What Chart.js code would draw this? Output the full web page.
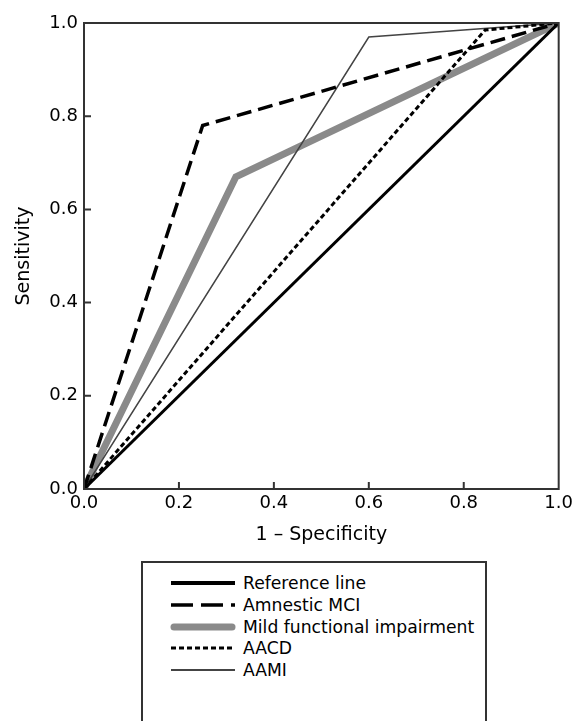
<!DOCTYPE html>
<html>
   <head>
      <title>ROC curves</title>
      <meta charset="utf-8">
      <style>
         body { margin: 0; background: #fff; font-family: "DejaVu Sans", sans-serif; }
         .wrap { position: relative; width: 577px; height: 721px; overflow: hidden; }
         .chart-box { position: absolute; left: 0; top: 0; width: 577px; height: 546px; }
         .legend { position: absolute; left: 141px; top: 561px; width: 342px; height: 200px; border: 2px solid #333; }
         .legend .row { position: absolute; left: 27px; height: 20px; font-size: 17.2px; line-height: 20px; color: #000; white-space: nowrap; }
         .legend svg { position: absolute; left: 0; top: 4px; }
         .legend span { position: absolute; left: 73px; top: 0; }
      </style>
   </head>
   <body>
      <div class="wrap">
         <div class="chart-box"><canvas id="roc"></canvas></div>
         <div class="legend" id="legend"></div>
      </div>

      <script src="https://cdn.jsdelivr.net/npm/chart.js@4.4.1/dist/chart.umd.min.js"></script>
      <script>
      // series (1 - specificity, sensitivity)
      const seriesNames = ['Reference line', 'Amnestic MCI', 'Mild functional impairment', 'AACD', 'AAMI'];
      const refX = [0, 1];
      const refY = [0, 1];
      const mciX = [0, 0.25, 1];
      const mciY = [0, 0.78, 1];
      const mfiX = [0, 0.32, 1];
      const mfiY = [0, 0.67, 1];
      const aacdX = [0, 0.845, 1];
      const aacdY = [0, 0.985, 1];
      const aamiX = [0, 0.60, 1];
      const aamiY = [0, 0.97, 1];
      const tickValues = [0, 0.2, 0.4, 0.6, 0.8, 1.0];

      function pts(xs, ys) {
         return xs.map((x, i) => ({x: x, y: ys[i]}));
      }

      // line styles: [colour, width, dash]
      const styles = [
         ['#000', 3, []],
         ['#000', 3.5, [15, 7]],
         ['#8a8a8a', 7, []],
         ['#000', 3, [5, 3]],
         ['#444', 1.5, []]
      ];
      const allX = [refX, mciX, mfiX, aacdX, aamiX];
      const allY = [refY, mciY, mfiY, aacdY, aamiY];
      const drawOrder = [2, 3, 5, 1, 4];

      const datasets = seriesNames.map((name, i) => ({
         label: name,
         data: pts(allX[i], allY[i]),
         borderColor: styles[i][0],
         borderWidth: styles[i][1],
         borderDash: styles[i][2],
         borderJoinStyle: 'miter',
         borderCapStyle: 'butt',
         pointRadius: 0,
         fill: false,
         tension: 0,
         order: drawOrder[i]
      }));

      // frame and inward tick marks
      const framePlugin = {
         id: 'frame',
         afterDraw(chart) {
            const ctx = chart.ctx;
            const a = chart.chartArea;
            const xs = chart.scales.x, ys = chart.scales.y;
            ctx.save();
            ctx.strokeStyle = '#333';
            ctx.lineWidth = 2;
            ctx.strokeRect(a.left, a.top, a.right - a.left, a.bottom - a.top);
            ctx.beginPath();
            tickValues.slice(1, -1).forEach(v => {
               const px = xs.getPixelForValue(v);
               ctx.moveTo(px, a.bottom);
               ctx.lineTo(px, a.bottom - 7);
               const py = ys.getPixelForValue(v);
               ctx.moveTo(a.left, py);
               ctx.lineTo(a.left + 7, py);
            });
            ctx.stroke();
            ctx.restore();
         }
      };

      const tickFont = {family: 'DejaVu Sans', size: 18};
      const titleFont = {family: 'DejaVu Sans', size: 19};

      new Chart(document.getElementById('roc'), {
         type: 'line',
         data: {datasets: datasets},
         plugins: [framePlugin],
         options: {
            responsive: true,
            maintainAspectRatio: false,
            animation: false,
            layout: {padding: {top: 23, right: 16, bottom: 0, left: 0}},
            plugins: {legend: {display: false}, tooltip: {enabled: false}},
            scales: {
               x: {
                  type: 'linear', min: 0, max: 1,
                  afterBuildTicks(s) { s.ticks = tickValues.map(v => ({value: v})); },
                  afterFit(s) { s.height = 546 - 489; },
                  grid: {display: false, drawTicks: false},
                  border: {display: false},
                  ticks: {padding: 4, color: '#000', font: tickFont, callback: v => v.toFixed(1), maxRotation: 0},
                  title: {display: true, text: '1 – Specificity', color: '#000', font: titleFont, padding: {top: 0, bottom: 0}}
               },
               y: {
                  type: 'linear', min: 0, max: 1,
                  afterBuildTicks(s) { s.ticks = tickValues.map(v => ({value: v})); },
                  afterFit(s) { s.width = 84; },
                  grid: {display: false, drawTicks: false},
                  border: {display: false},
                  ticks: {padding: 6, color: '#000', font: tickFont, callback: v => v.toFixed(1)},
                  title: {display: true, text: 'Sensitivity', color: '#000', font: titleFont, padding: {top: 13, bottom: 0}}
               }
            }
         }
      });

      // legend box below the chart
      const legend = document.getElementById('legend');
      seriesNames.forEach((name, i) => {
         const row = document.createElement('div');
         row.className = 'row';
         row.style.top = (10 + i * 21.75) + 'px';
         const w = styles[i][1] + (i === 0 ? 1 : 0) + (i === 4 ? 0.5 : 0);
         const dash = i === 1 ? '22,8' : styles[i][2].join(',');
         const cap = i === 2 ? 'round' : 'butt';
         row.innerHTML =
            '<svg width="66" height="12"><line x1="' + (i === 2 ? 4 : 1) + '" y1="6" x2="' + (i === 2 ? 62 : 65) + '" y2="6" stroke="' + styles[i][0] +
            '" stroke-width="' + w + '" stroke-linecap="' + cap + '"' + (dash ? ' stroke-dasharray="' + dash + '"' : '') + '/></svg>' +
            '<span>' + name + '</span>';
         legend.appendChild(row);
      });
      </script>
   </body>
</html>
